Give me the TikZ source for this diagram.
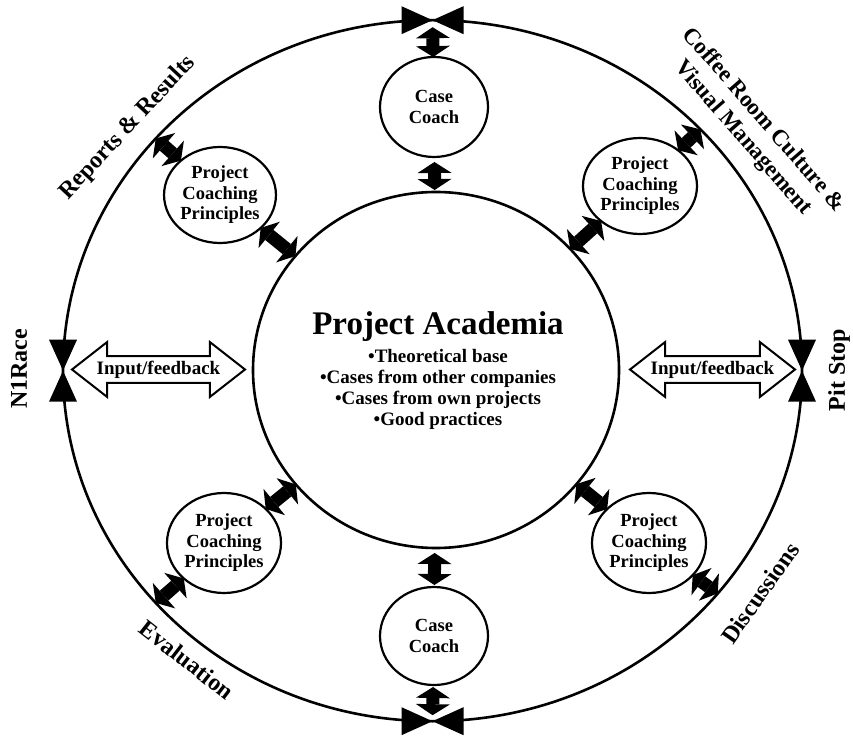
\documentclass[tikz,border=0pt]{standalone}
\usepackage{fontspec}
\setmainfont{Liberation Serif}
\usetikzlibrary{shapes.geometric,shapes.arrows,arrows.meta}
\begin{document}
\begin{tikzpicture}[x=1pt,y=1pt,
  ring/.style={ellipse,draw,line width=2.6pt,inner sep=0pt,outer sep=0pt},
  bubble/.style={ellipse,draw,line width=2.2pt,inner sep=0pt,outer sep=0pt,align=center},
  pcp/.style={bubble,font=\fontsize{18.5}{20.5}\selectfont\bfseries},
  casecoach/.style={bubble,font=\fontsize{18.5}{20.5}\selectfont\bfseries},
  blkarrow/.style={line width=13pt,
    {Triangle[width=34pt,length=11pt,line width=0pt]}-{Triangle[width=34pt,length=11pt,line width=0pt]}},
  fbarrow/.style={double arrow,draw,line width=2pt,fill=white,minimum height=#1,
    minimum width=55pt,double arrow head extend=12.5pt,double arrow tip angle=76,
    inner xsep=0pt,inner ysep=2pt,font=\fontsize{19}{21}\selectfont\bfseries},
  rimlabel/.style={font=\fontsize{24}{26}\selectfont\bfseries,align=center,inner sep=0pt},
  bowtie/.pic={\fill (0,0) -- (-31,14) -- (-31,-14) -- cycle
                     (0,0) -- (31,14) -- (31,-14) -- cycle;}
]
\useasboundingbox (0,0) rectangle (853,742);

% outer track and central academia
\node[ring,minimum width=739pt,minimum height=701pt] (outer) at (432.5,371.3) {};
\node[ring,minimum width=366pt,minimum height=356pt] (main) at (436,372) {};
\node[font=\fontsize{19}{21}\selectfont\bfseries,align=center] (acad) at (438,371)
  {{\fontsize{33}{35}\selectfont Project Academia}\\[7pt]%
   •Theoretical base\\•Cases from other companies\\•Cases from own projects\\•Good practices};

% gates on the track
\pic at (outer.north) {bowtie};
\pic at (outer.south) {bowtie};
\pic[rotate=90] at (outer.west) {bowtie};
\pic[rotate=90] at (outer.east) {bowtie};

% satellites
\node[casecoach,minimum width=108pt,minimum height=100pt] (cc1) at (434,635) {Case\\Coach};
\node[casecoach,minimum width=108pt,minimum height=98pt] (cc2) at (434,106) {Case\\Coach};
\node[pcp,minimum width=106pt,minimum height=96pt] (pcp1) at (220,547) {Project\\Coaching\\Principles};
\node[pcp,minimum width=114pt,minimum height=96pt] (pcp2) at (640,556) {Project\\Coaching\\Principles};
\node[pcp,minimum width=114pt,minimum height=100pt] (pcp3) at (224,199) {Project\\Coaching\\Principles};
\node[pcp,minimum width=114pt,minimum height=100pt] (pcp4) at (649,199) {Project\\Coaching\\Principles};

% input/feedback channels
\node[fbarrow=173pt] (fbl) at (158.5,372.5) {Input/feedback};
\node[fbarrow=165pt] (fbr) at (712.5,372.5) {Input/feedback};

% two-way links
\draw[blkarrow,shorten >=7pt] (cc1) -- (outer.north);
\draw[blkarrow,shorten <=5pt,shorten >=2pt] (cc1) -- (main);
\draw[blkarrow,shorten <=2pt,shorten >=5pt] (cc2) -- (main);
\draw[blkarrow,shorten <=2pt,shorten >=6pt] (cc2) -- (outer.south);
\draw[blkarrow] (pcp1) -- (outer.140);
\draw[blkarrow] (pcp1) -- (main);
\draw[blkarrow] (pcp2) -- (outer.42);
\draw[blkarrow] (pcp2) -- (main);
\draw[blkarrow] (pcp3) -- (outer.220);
\draw[blkarrow] (pcp3) -- (main);
\draw[blkarrow] (pcp4) -- (outer.322);
\draw[blkarrow] (pcp4) -- (main);

% labels around the track
\node[rimlabel,rotate=90] (n1race) at (19,373) {N1Race};
\node[rimlabel,rotate=90] (pitstop) at (839,372) {Pit Stop};
\node[rimlabel,rotate=47] (reports) at (128,614) {Reports \& Results};
\node[rimlabel,font=\fontsize{23}{27}\selectfont\bfseries,rotate=-49] (coffee) at (753,613)
  {Coffee Room Culture \&\\Visual Management};
\node[rimlabel,rotate=-38] (evaluation) at (187,82) {Evaluation};
\node[rimlabel,rotate=55] (discussions) at (760,149) {Discussions};
\end{tikzpicture}
\end{document}
